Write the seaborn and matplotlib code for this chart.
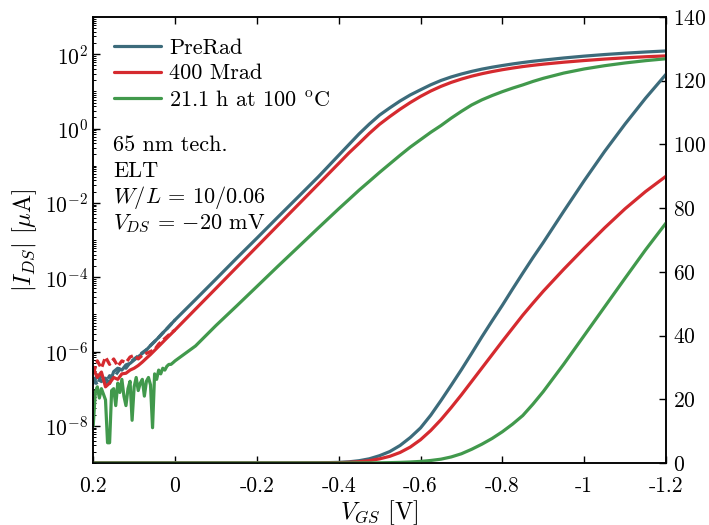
import numpy as np
import pandas as pd
import matplotlib
matplotlib.use("Agg")
import matplotlib.pyplot as plt
import seaborn as sns
from matplotlib.ticker import FixedLocator, LogLocator, NullFormatter

# ---------------------------------------------------------------------------
# Transfer characteristics |I_DS| (uA) versus V_GS (V), 65 nm ELT nMOS
# ---------------------------------------------------------------------------
series_names = ["PreRad", "400 Mrad", r"21.1 h at 100 $^{\mathrm{o}}$C"]
series_colors = ["#3c6b7b", "#d52a2f", "#41994c"]

# main sweep (subthreshold to strong inversion), finer steps around threshold
vgs_sweep = [0.00, -0.05, -0.10, -0.15, -0.20, -0.25, -0.30, -0.35, -0.40,
             -0.425, -0.45, -0.475, -0.50, -0.525, -0.55, -0.575, -0.60,
             -0.625, -0.65, -0.675, -0.70, -0.725, -0.75, -0.775, -0.80,
             -0.825, -0.85, -0.875, -0.90,
             -0.95, -1.00, -1.05, -1.10, -1.15, -1.20]

ids_prerad = [7.1e-6, 2.5e-5, 8.9e-5, 3.2e-4, 1.12e-3, 4.0e-3, 1.41e-2, 5.0e-2,
              0.19,
              0.37, 0.72, 1.32, 2.3, 3.6, 5.5, 8.0, 11.0, 15.0, 19.6, 24.4,
              29.3, 34.4, 39.6, 44.6, 49.5, 54.6, 59.6, 64.5, 69.2,
              79.0, 88.6, 97.8, 106.4, 114.5, 122.0]
ids_400mrad = [3.8e-6, 1.38e-5, 5.0e-5, 1.82e-4, 6.6e-4, 2.4e-3, 8.7e-3, 3.16e-2,
               0.115,
               0.22, 0.40, 0.74, 1.3, 2.1, 3.3, 5.0, 7.3, 10.2, 13.6, 17.4,
               21.4, 25.6, 29.8, 34.0, 38.2, 42.3, 46.4, 50.2, 53.9,
               60.8, 67.4, 73.8, 79.8, 85.2, 90.0]
ids_anneal = [5.6e-7, 1.41e-6, 5.0e-6, 1.66e-5, 5.6e-5, 1.9e-4, 6.3e-4, 2.1e-3,
              6.9e-3,
              1.23e-2, 2.2e-2, 3.8e-2, 6.6e-2, 0.112, 0.19, 0.316, 0.50, 0.79,
              1.2, 1.9, 2.9, 4.3, 5.9, 7.7, 9.8, 12.2, 14.9, 18.5, 22.4,
              31.0, 40.0, 49.0, 58.0, 66.9, 75.3]

# near the noise floor (positive V_GS)
vgs_floor = [0.20, 0.19, 0.18, 0.17, 0.16, 0.15, 0.14, 0.13, 0.12, 0.11,
             0.10, 0.09, 0.08, 0.07, 0.06, 0.05, 0.04, 0.03, 0.02, 0.01]

floor_prerad = [1.38e-7, 2.34e-7, 1.55e-7, 1.91e-7, 1.38e-7, 2.88e-7, 3.55e-7,
                3.16e-7, 4.37e-7, 4.79e-7, 5.9e-7, 7.2e-7, 8.9e-7, 1.10e-6,
                1.45e-6, 1.86e-6, 2.4e-6, 3.16e-6, 4.1e-6, 5.4e-6]
floor_prerad_rev = [2.0e-7, 1.26e-7, 2.5e-7, 1.41e-7, 2.24e-7, 2.0e-7, 2.8e-7,
                    4.0e-7, 3.55e-7, 5.0e-7, 6.3e-7, 7.6e-7, 9.3e-7, 1.12e-6,
                    1.45e-6, 1.86e-6, 2.4e-6, 3.16e-6, 4.1e-6, 5.4e-6]
floor_400mrad = [3.55e-7, 2.0e-7, 2.8e-7, 1.12e-7, 1.41e-7, 2.0e-7, 1.78e-7,
                 2.5e-7, 2.6e-7, 3.16e-7, 3.55e-7, 4.2e-7, 5.2e-7, 6.6e-7,
                 8.3e-7, 1.07e-6, 1.38e-6, 1.78e-6, 2.3e-6, 2.95e-6]
floor_400mrad_rev = [2.5e-7, 5.6e-7, 3.55e-7, 7.1e-7, 4.5e-7, 6.3e-7, 4.0e-7,
                     5.6e-7, 5.0e-7, 7.1e-7, 7.9e-7, 6.3e-7, 7.9e-7, 8.9e-7,
                     1.0e-6, 1.12e-6, 1.58e-6, 2.0e-6, 2.5e-6, 3.16e-6]

vgs_floor_fine = [0.200, 0.195, 0.190, 0.185, 0.180, 0.175, 0.170, 0.165,
                  0.160, 0.155, 0.150, 0.145, 0.140, 0.135, 0.130, 0.125,
                  0.120, 0.115, 0.110, 0.105, 0.100, 0.095, 0.090, 0.085,
                  0.080, 0.075, 0.070, 0.065, 0.060, 0.055, 0.050, 0.045,
                  0.040, 0.035, 0.030, 0.025, 0.020, 0.015, 0.010, 0.005]
floor_anneal = [1.0e-8, 7.9e-8, 1.12e-7, 5.6e-8, 1.0e-7, 7.1e-8, 5.0e-8, 3.5e-9,
                3.5e-9, 8.9e-8, 1.0e-7, 3.5e-8, 1.41e-7, 7.9e-8, 1.78e-7, 6.3e-8,
                3.5e-8, 1.0e-7, 1.58e-7, 1.41e-8, 1.12e-7, 2.0e-7, 8.9e-8, 1.41e-7,
                1.78e-7, 6.3e-8, 1.58e-7, 2.0e-7, 1.26e-7, 8.9e-9, 2.5e-7, 1.78e-7,
                3.16e-7, 2.5e-7, 3.55e-7, 3.16e-7, 4.0e-7, 4.5e-7, 4.5e-7, 5.0e-7]

x_ticks = [0.2, 0.0, -0.2, -0.4, -0.6, -0.8, -1.0, -1.2]
x_tick_labels = ["0.2", "0", "-0.2", "-0.4", "-0.6", "-0.8", "-1", "-1.2"]
log_ticks = [1e-8, 1e-6, 1e-4, 1e-2, 1e0, 1e2]
lin_ticks = [0, 20, 40, 60, 80, 100, 120, 140]

info_lines = ["65 nm tech.", "ELT", r"$W/L$ = 10/0.06",
              r"$V_{DS}$ = $-$20 mV"]


def sweep_frame(v_low, i_low, v_main, i_main):
    return pd.DataFrame({"vgs": list(v_low) + list(v_main),
                         "ids": list(i_low) + list(i_main)})


fwd = [sweep_frame(vgs_floor, floor_prerad, vgs_sweep, ids_prerad),
       sweep_frame(vgs_floor, floor_400mrad, vgs_sweep, ids_400mrad),
       sweep_frame(vgs_floor_fine, floor_anneal, vgs_sweep, ids_anneal)]
rev = [sweep_frame(vgs_floor, floor_prerad_rev, vgs_sweep[:1], ids_prerad[:1]),
       sweep_frame(vgs_floor, floor_400mrad_rev, vgs_sweep[:1], ids_400mrad[:1]),
       None]

# ---------------------------------------------------------------------------
sns.set_style("ticks")
plt.rcParams.update({
    "font.family": "cmr10",
    "mathtext.fontset": "cm",
    "axes.unicode_minus": False,
    "axes.formatter.use_mathtext": True,
    "font.size": 16,
    "axes.linewidth": 1.1,
    "axes.edgecolor": "black",
    "xtick.color": "black",
    "ytick.color": "black",
    "text.color": "black",
    "axes.labelcolor": "black",
})

fig = plt.figure(figsize=(7.09, 5.25), dpi=100)
ax = fig.add_axes([0.1315, 0.1181, 0.8078, 0.8495])
ax_lin = ax.twinx()

lw = 2.3
handles = []
for k in range(3):
    sns.lineplot(data=fwd[k], x="vgs", y="ids", ax=ax, color=series_colors[k],
                 lw=lw, estimator=None, sort=False, legend=False)
    handles.append(ax.lines[-1])
    if rev[k] is not None:
        sns.lineplot(data=rev[k], x="vgs", y="ids", ax=ax,
                     color=series_colors[k], lw=lw, estimator=None,
                     sort=False, legend=False, linestyle=(0, (2.5, 1.2)))
    sns.lineplot(data=fwd[k], x="vgs", y="ids", ax=ax_lin,
                 color=series_colors[k], lw=lw, estimator=None, sort=False,
                 legend=False)

# left: logarithmic current axis
ax.set_yscale("log")
ax.set_ylim(1e-9, 1e3)
ax.yaxis.set_major_locator(FixedLocator(log_ticks))
ax.yaxis.set_minor_locator(LogLocator(base=10, subs=np.arange(1, 10), numticks=40))
ax.yaxis.set_minor_formatter(NullFormatter())
ax.set_xlim(0.2, -1.2)
ax.set_xticks(x_ticks)
ax.set_xticklabels(x_tick_labels)
ax.set_xlabel(r"$V_{GS}$ [V]", fontsize=17.5, labelpad=1)
ax.set_ylabel(r"$|I_{DS}|$ [$\mu$A]", fontsize=17.5, labelpad=4)
ax.tick_params(which="both", direction="in", top=True, right=False,
               labelsize=15.5)
ax.tick_params(which="major", length=5, width=1.0)
ax.tick_params(which="minor", length=2.5, width=0.7)
ax.tick_params(axis="x", which="minor", top=False, bottom=False)
ax.tick_params(axis="x", which="major", pad=10)

# right: linear current axis
ax_lin.set_ylim(0, 140)
ax_lin.set_yticks(lin_ticks)
ax_lin.set_ylabel("")
ax_lin.tick_params(direction="in", length=5, width=1.0, labelsize=15.5, pad=5)

ax.legend(handles, series_names, loc="upper left", frameon=False,
          bbox_to_anchor=(0.0, 1.0), fontsize=16, handlelength=2.1,
          handletextpad=0.35, labelspacing=0.28, borderaxespad=0.55)

for i, line in enumerate(info_lines):
    ax.text(0.035, 0.713 - 0.059 * i, line, transform=ax.transAxes,
            fontsize=16, va="center", ha="left")

fig.savefig("out.png", dpi=100)
